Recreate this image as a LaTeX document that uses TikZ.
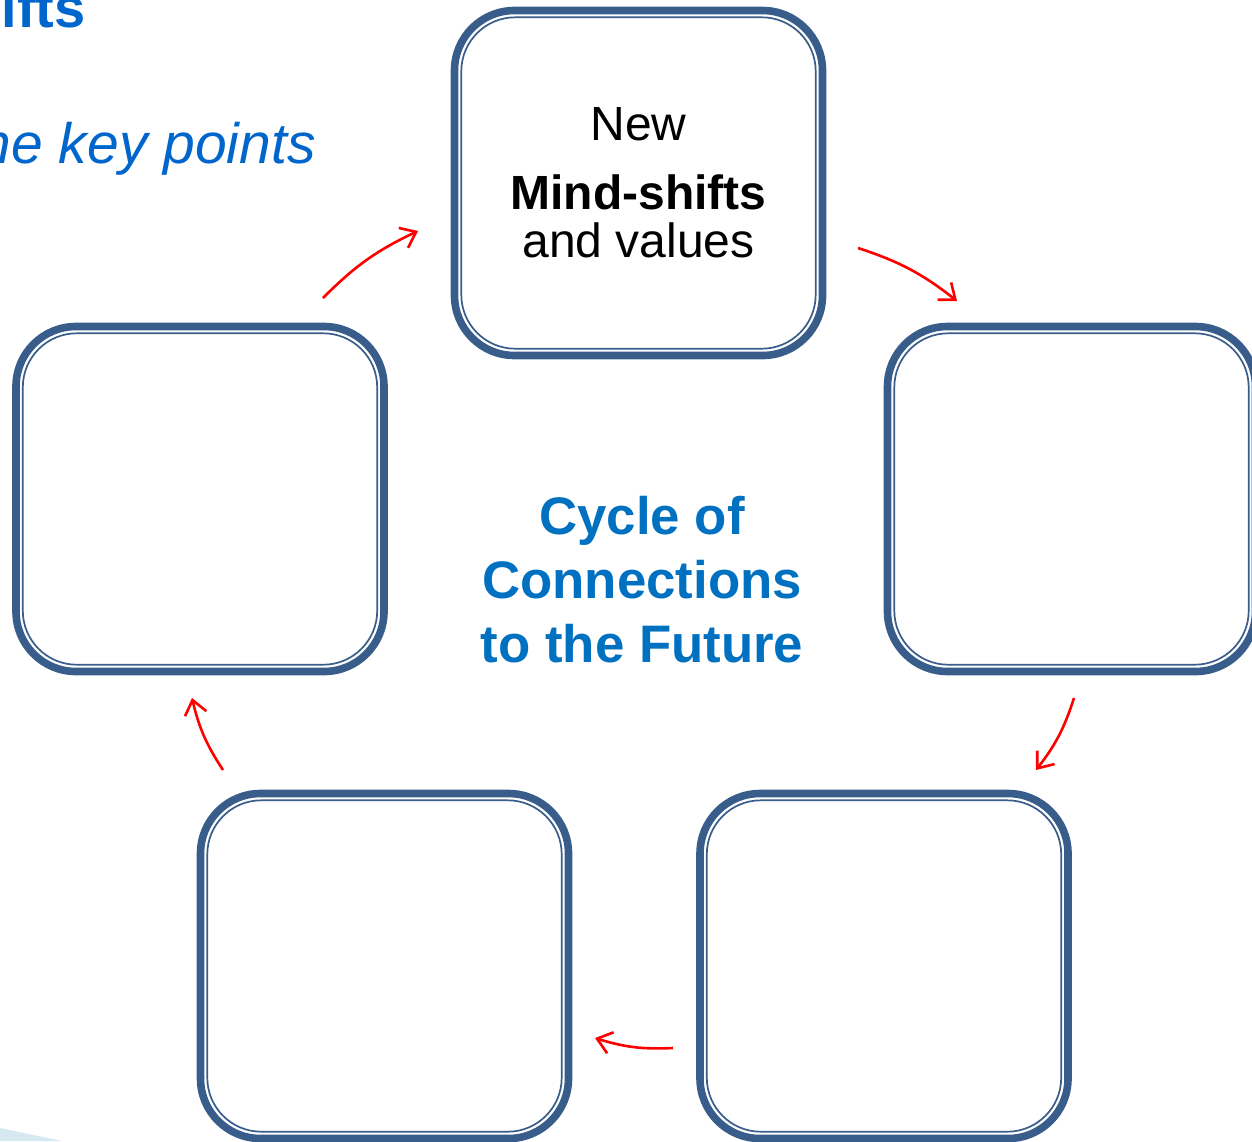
\documentclass[tikz,border=0pt]{standalone}
\usepackage{fontspec}
\setmainfont{Liberation Sans}
\usetikzlibrary{arrows.meta}
\definecolor{boxblue}{HTML}{385D8A}
\definecolor{titleblue}{HTML}{0066CC}
\definecolor{cycleblue}{HTML}{0070C0}
\definecolor{cornerblue}{HTML}{D6E8F0}

\begin{document}
\begin{tikzpicture}[x=0.5pt,y=-0.5pt,
  cyclebox/.style={draw=boxblue, fill=white, line width=3.8pt, rounded corners=30pt,
    minimum width=184pt, minimum height=172.5pt, outer sep=0pt, inner sep=0pt,
    align=center, font=\fontsize{24}{24}\selectfont},
  innerline/.style={draw=boxblue, line width=0.85pt, rounded corners=27pt},
  flow/.style={red, line width=1.3pt, -{Straight Barb[length=7pt,width=11pt]}, bend left=10}]
  \useasboundingbox (0,0) rectangle (1252,1141);
  \fill[cornerblue] (0,1128) -- (62,1141) -- (0,1141) -- cycle;

  \node[anchor=base east, inner sep=0pt, text=titleblue,
    font=\fontsize{28}{28}\selectfont\bfseries] (title) at (86,27) {Mind-shifts};
  \node[anchor=base east, inner sep=0pt, text=titleblue,
    font=\fontsize{28.5}{28.5}\selectfont\itshape] (subtitle) at (316,163) {the key points};

  \node[cyclebox] (mind) at (638.5,183) {New\\[10.5pt]\textbf{Mind-shifts}\\and values};
  \node[cyclebox] (right) at (1071.5,499) {};
  \node[cyclebox] (lowright) at (884,966) {};
  \node[cyclebox] (lowleft) at (384.5,966) {};
  \node[cyclebox] (left) at (200,499) {};
  \foreach \n in {mind,right,lowright,lowleft,left}
    \draw[innerline] ([shift={(3.4pt,3.4pt)}]\n.south west)
      rectangle ([shift={(-3.4pt,-3.4pt)}]\n.north east);

  \node[align=center, text=cycleblue, inner sep=0pt,
    font=\fontsize{26.4}{32}\selectfont\bfseries] (cycle) at (642,580)
    {Cycle of\\Connections\\to the Future};

  \coordinate (a1) at (323,298);  \coordinate (a2) at (418,231);
  \coordinate (b1) at (858,248);  \coordinate (b2) at (957,301);
  \coordinate (c1) at (1074,698); \coordinate (c2) at (1036,770);
  \coordinate (d1) at (673,1048); \coordinate (d2) at (595,1038);
  \coordinate (e1) at (223,770);  \coordinate (e2) at (192,698);
  \draw[flow] (a1) to (a2);
  \draw[flow] (b1) to (b2);
  \draw[flow] (c1) to (c2);
  \draw[flow] (d1) to (d2);
  \draw[flow] (e1) to (e2);
\end{tikzpicture}
\end{document}
